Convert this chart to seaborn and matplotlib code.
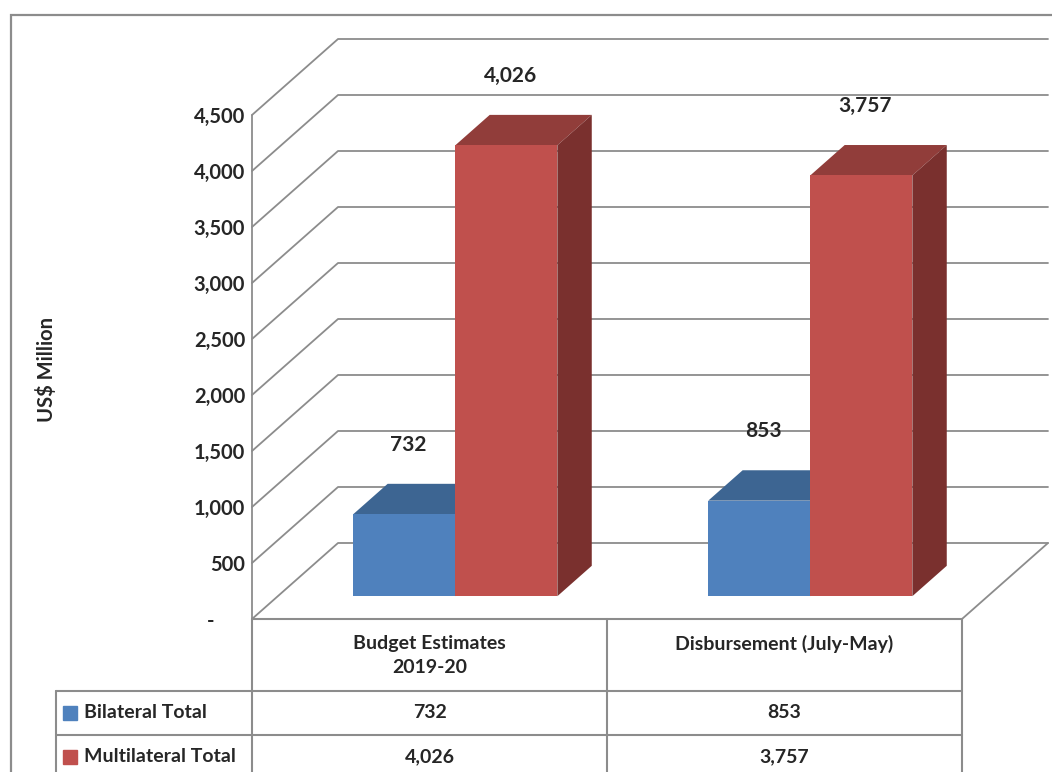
import pandas as pd
import numpy as np
import matplotlib
matplotlib.use("Agg")
import matplotlib.pyplot as plt
from matplotlib.patches import Polygon, Rectangle
import seaborn as sns

# data
categories = ["Budget Estimates\n2019-20", "Disbursement (July-May)"]
series = ["Bilateral Total", "Multilateral Total"]
bilateral = [732, 853]
multilateral = [4026, 3757]
yticks = list(range(500, 4501, 500))

# colours (front, top, side)
front_cols = ["#4F81BD", "#C0504D"]
top_cols = ["#3D6592", "#913D3A"]
side_cols = ["#345680", "#7A302E"]
grid_col = "#8C8C8C"

sns.set_style("white")
plt.rcParams["font.family"] = ["Lato", "DejaVu Sans"]
plt.rcParams["font.weight"] = "bold"

df = pd.DataFrame({
    "category": categories * 2,
    "series": [series[0]] * 2 + [series[1]] * 2,
    "value": bilateral + multilateral,
})

W, H = 1052, 772
fig = plt.figure(figsize=(W / 100, H / 100), dpi=100)

# 3d depth of the walls in data units, and where the bars sit in it
DX, DY = 0.2423, 678.6
D0, BD = 0.30, 0.40

# main axes: front plane left=252px, bottom(0)=619px
ax = fig.add_axes([252 / W, 1 - 619 / H, (1048 - 252) / W, (619 - 39) / H])
sns.barplot(data=df, x="category", y="value", hue="series", palette=front_cols,
            width=0.575, saturation=1, legend=False, ax=ax)

# walls + gridlines
for t in [0] + yticks:
    ax.plot([-0.5, -0.5 + DX, 1.5 + DX], [t, t + DY, t + DY], color=grid_col,
            lw=1.3, zorder=1, clip_on=False)
ax.plot([-0.5, -0.5], [0, 4500], color=grid_col, lw=1.3, zorder=1, clip_on=False)
ax.plot([1.5, 1.5 + DX], [0, DY], color=grid_col, lw=1.3, zorder=1, clip_on=False)

# turn flat bars into boxes
for k, cont in enumerate(ax.containers):
    z = 3 + k
    for bar in cont:
        x0 = bar.get_x() + D0 * DX
        y0 = D0 * DY
        w = bar.get_width()
        h = bar.get_height()
        bar.set_x(x0)
        bar.set_y(y0)
        bar.set_zorder(z + 0.2)
        bar.set_linewidth(0)
        x1, y1 = x0 + w, y0 + h
        top = [(x0, y1), (x1, y1), (x1 + BD * DX, y1 + BD * DY), (x0 + BD * DX, y1 + BD * DY)]
        side = [(x1, y0), (x1 + BD * DX, y0 + BD * DY), (x1 + BD * DX, y1 + BD * DY), (x1, y1)]
        ax.add_patch(Polygon(top, closed=True, fc=top_cols[k], ec="none", zorder=z))
        ax.add_patch(Polygon(side, closed=True, fc=side_cols[k], ec="none", zorder=z))
        ax.annotate(f"{h:,.0f}", xy=(x0 + w / 2, y1), xytext=(3, 50),
                    textcoords="offset points", ha="center", va="center",
                    fontsize=15, fontweight="bold", zorder=10)

ax.set_xlim(-0.5, 1.5 + DX)
ax.set_ylim(0, 4500 + DY)
ax.set_xticks([])
ax.set_xlabel("")
ax.set_yticks(yticks, [f"{t:,}" for t in yticks])
ax.set_yticks([0], ["-"], minor=True)
ax.tick_params(axis="y", which="major", length=0, pad=5, labelsize=14.5)
ax.tick_params(axis="y", which="minor", length=0, pad=27, labelsize=14.5)
ax.set_ylabel("US$ Million", fontsize=14.5, fontweight="bold", va="center")
ax.yaxis.set_label_coords((46 - 252) / (1048 - 252), (619 - 370) / (619 - 39))
for s in ax.spines.values():
    s.set_visible(False)
ax.patch.set_alpha(0)

# data table under the plot
LBL = (252 - 56) / 355
rows = [0, 72, 116, 160]
tab = fig.add_axes([56 / W, 1 - 779 / H, (962 - 56) / W, 160 / H])
tab.set_xlim(-0.5 - LBL, 1.5)
tab.set_ylim(160, 0)
tab.axis("off")
tkw = dict(color=grid_col, lw=1.5, clip_on=False)
tab.plot([-0.5, 1.5], [0, 0], **tkw)
for r in rows[1:]:
    tab.plot([-0.5 - LBL, 1.5], [r, r], **tkw)
tab.plot([-0.5 - LBL, -0.5 - LBL], [rows[1], rows[-1]], **tkw)
for xv in [-0.5, 0.5, 1.5]:
    tab.plot([xv, xv], [0, rows[-1]], **tkw)

for i, cat in enumerate(categories):
    tab.text(i, 16, cat, ha="center", va="top", fontsize=14,
             fontweight="bold", linespacing=1.5)
for j, (name, vals) in enumerate(zip(series, [bilateral, multilateral])):
    yc = (rows[j + 1] + rows[j + 2]) / 2
    tab.plot([-0.5 - LBL + 0.04], [yc], marker="s", ms=9.5, color=front_cols[j],
             linestyle="none", clip_on=False)
    tab.text(-0.5 - LBL + 0.079, yc, name, ha="left", va="center",
             fontsize=14, fontweight="bold")
    for i, v in enumerate(vals):
        tab.text(i, yc, f"{v:,}", ha="center", va="center",
                 fontsize=14, fontweight="bold")

# outer chart border
fig.add_artist(Rectangle((11 / W, -0.05), 1.2, 1 - 15 / H + 0.05,
                         transform=fig.transFigure, fill=False,
                         ec=grid_col, lw=1.6))

fig.savefig("out.png", dpi=100)
